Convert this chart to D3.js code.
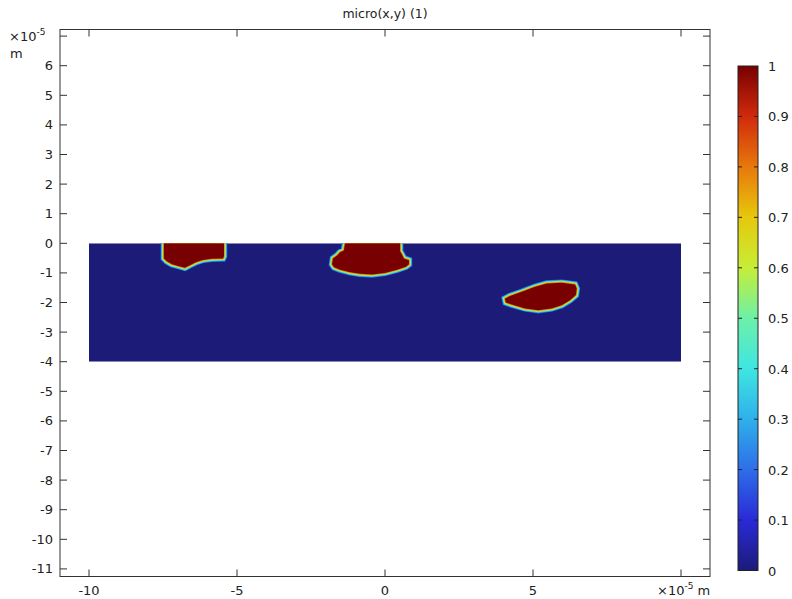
<!DOCTYPE html>
<html>
<head>
<meta charset="utf-8">
<script src="https://cdn.jsdelivr.net/npm/d3@7"></script>
<style>
  body { margin: 0; background: #fff; }
  svg text { font-family: "DejaVu Sans", sans-serif; fill: #222; }
</style>
</head>
<body>
<svg id="chart" width="792" height="599"></svg>
<script>
// ---- data (units of 1e-5 m) ----
const title = "micro(x,y) (1)";
const xTicks = [-10, -5, 0, 5, 10];
const xTickLabels = ["-10", "-5", "0", "5", ""];
const yTicks = [7, 6, 5, 4, 3, 2, 1, 0, -1, -2, -3, -4, -5, -6, -7, -8, -9, -10, -11];
const yTickLabels = ["", "6", "5", "4", "3", "2", "1", "0", "-1", "-2", "-3", "-4", "-5", "-6", "-7", "-8", "-9", "-10", "-11"];
const colorTicks = [0, 0.1, 0.2, 0.3, 0.4, 0.5, 0.6, 0.7, 0.8, 0.9, 1];
const colorTickLabels = ["0", "0.1", "0.2", "0.3", "0.4", "0.5", "0.6", "0.7", "0.8", "0.9", "1"];
// computational domain rectangle [x0, x1, y0, y1], value 0 inside
const domainRect = [-10, 10, -4, 0];
const domainValue = 0;
// regions where micro = 1
const blob1 = [[-7.47,0],[-7.47,-0.51],[-7.37,-0.61],[-7.20,-0.71],[-6.93,-0.78],[-6.76,-0.83],[-6.59,-0.74],[-6.39,-0.64],[-6.15,-0.56],[-5.85,-0.52],[-5.47,-0.51],[-5.44,-0.44],[-5.44,0]];
const blob2 = [[-1.35,0],[-1.39,-0.24],[-1.52,-0.30],[-1.62,-0.41],[-1.76,-0.51],[-1.79,-0.71],[-1.72,-0.81],[-1.52,-0.89],[-1.18,-0.98],[-0.85,-1.03],[-0.44,-1.05],[0,-1.0],[0.41,-0.89],[0.71,-0.79],[0.81,-0.71],[0.81,-0.57],[0.64,-0.51],[0.57,-0.37],[0.51,-0.27],[0.51,0]];
const blob3 = [[4.05,-1.87],[4.22,-1.78],[4.62,-1.64],[5.07,-1.47],[5.46,-1.36],[5.97,-1.33],[6.42,-1.39],[6.48,-1.53],[6.45,-1.75],[6.25,-1.92],[5.97,-2.09],[5.63,-2.20],[5.18,-2.26],[4.73,-2.20],[4.28,-2.07],[4.08,-2.00]];
const blobs = [blob1, blob2, blob3];
const blobValue = 1;
// colormap stops (Rainbow)
const cmapStops = [0, 0.1, 0.2, 0.3, 0.4, 0.5, 0.6, 0.7, 0.8, 0.9, 1];
const cmapColors = ["#1c1b78", "#2a2ad8", "#2e6ee8", "#2fb0ea", "#3ee6e2", "#6df0a8", "#c6ee36", "#e6c80c", "#e8780c", "#d02a0c", "#780000"];

// ---- drawing ----
const svg = d3.select("#chart");
const frame = { left: 60, right: 710, top: 29.5, bottom: 576.5 };
const x = d3.scaleLinear().domain([-10, 10]).range([89, 681]);
const y = d3.scaleLinear().domain([0, -4]).range([243.3, 361.7]);
const color = d3.scaleLinear().domain(cmapStops).range(cmapColors).interpolate(d3.interpolateRgb);

svg.append("text").attr("x", 385).attr("y", 18).attr("text-anchor", "middle")
  .style("font-size", "12.5px").text(title);

const defs = svg.append("defs");
defs.append("clipPath").attr("id", "dclip").append("rect")
  .attr("x", x(domainRect[0])).attr("y", y(domainRect[3]))
  .attr("width", x(domainRect[1]) - x(domainRect[0]))
  .attr("height", y(domainRect[2]) - y(domainRect[3]));

const plot = svg.append("g").attr("clip-path", "url(#dclip)");
plot.append("rect")
  .attr("x", x(domainRect[0])).attr("y", y(domainRect[3]))
  .attr("width", x(domainRect[1]) - x(domainRect[0]))
  .attr("height", y(domainRect[2]) - y(domainRect[3]))
  .attr("fill", color(domainValue));

const line = d3.line().x(d => x(d[0])).y(d => y(d[1])).curve(d3.curveLinearClosed);
const halos = [[6.5, 0.2], [5.2, 0.33], [4, 0.48], [2.8, 0.62], [1.6, 0.78]];
blobs.forEach(b => {
  halos.forEach(([w, v]) => {
    plot.append("path").attr("d", line(b)).attr("fill", color(v))
      .attr("stroke", color(v)).attr("stroke-width", w).attr("stroke-linejoin", "miter");
  });
  plot.append("path").attr("d", line(b)).attr("fill", color(blobValue));
});

// frame
svg.append("rect").attr("x", frame.left).attr("y", frame.top)
  .attr("width", frame.right - frame.left).attr("height", frame.bottom - frame.top)
  .attr("fill", "none").attr("stroke", "#333").attr("stroke-width", 1);

const tl = 7;
const ax = svg.append("g").attr("stroke", "#333").attr("stroke-width", 1);
xTicks.forEach(t => {
  ax.append("line").attr("x1", x(t)).attr("x2", x(t)).attr("y1", frame.bottom).attr("y2", frame.bottom - tl);
  ax.append("line").attr("x1", x(t)).attr("x2", x(t)).attr("y1", frame.top).attr("y2", frame.top + tl);
});
yTicks.forEach(t => {
  ax.append("line").attr("y1", y(t)).attr("y2", y(t)).attr("x1", frame.left).attr("x2", frame.left + tl);
  ax.append("line").attr("y1", y(t)).attr("y2", y(t)).attr("x1", frame.right).attr("x2", frame.right - tl);
});
xTicks.forEach((t, i) => {
  svg.append("text").attr("x", x(t)).attr("y", 595).attr("text-anchor", "middle")
    .style("font-size", "13px").text(xTickLabels[i]);
});
yTicks.forEach((t, i) => {
  svg.append("text").attr("x", 53).attr("y", y(t) + 4.5).attr("text-anchor", "end")
    .style("font-size", "13px").text(yTickLabels[i]);
});
// unit labels
const u1 = svg.append("text").attr("x", 9).attr("y", 41).style("font-size", "13px");
u1.append("tspan").text("×10");
u1.append("tspan").attr("dy", -6).style("font-size", "9px").text("-5");
svg.append("text").attr("x", 10).attr("y", 58).style("font-size", "13px").text("m");
const u2 = svg.append("text").attr("x", 657).attr("y", 595).style("font-size", "13px");
u2.append("tspan").text("×10");
u2.append("tspan").attr("dy", -6).style("font-size", "9px").text("-5");
u2.append("tspan").attr("dy", 6).text(" m");

// colorbar
const cb = { x0: 738, x1: 758 };
const c = d3.scaleLinear().domain([0, 1]).range([570.5, 66]);
const grad = defs.append("linearGradient").attr("id", "cbgrad")
  .attr("x1", 0).attr("y1", 1).attr("x2", 0).attr("y2", 0);
cmapStops.forEach((s, i) => grad.append("stop").attr("offset", s).attr("stop-color", cmapColors[i]));
svg.append("rect").attr("x", cb.x0).attr("y", c(1)).attr("width", cb.x1 - cb.x0)
  .attr("height", c(0) - c(1)).attr("fill", "url(#cbgrad)").attr("stroke", "#222").attr("stroke-width", 1);
colorTicks.forEach((t, i) => {
  if (t > 0 && t < 1) {
    svg.append("line").attr("x1", cb.x0).attr("x2", cb.x0 + 4).attr("y1", c(t)).attr("y2", c(t)).attr("stroke", "#222");
    svg.append("line").attr("x1", cb.x1).attr("x2", cb.x1 - 4).attr("y1", c(t)).attr("y2", c(t)).attr("stroke", "#222");
  }
  svg.append("text").attr("x", 768).attr("y", c(t) + 5).style("font-size", "13px").text(colorTickLabels[i]);
});
</script>
</body>
</html>
